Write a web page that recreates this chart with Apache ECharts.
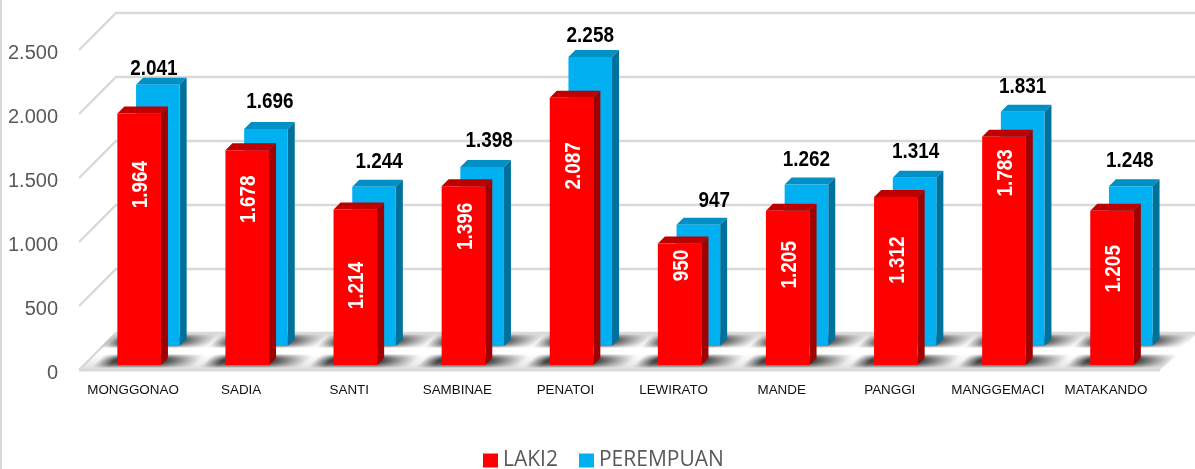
<!DOCTYPE html>
<html>
<head>
<meta charset="utf-8">
<style>html,body{margin:0;padding:0;background:#fff}#c{width:1195px;height:469px}</style>
<script src="https://cdn.jsdelivr.net/npm/echarts@6/dist/echarts.min.js"></script>
</head>
<body>
<div id="c"></div>
<script>
const categories = ['MONGGONAO','SADIA','SANTI','SAMBINAE','PENATOI','LEWIRATO','MANDE','PANGGI','MANGGEMACI','MATAKANDO'];
const laki2 = [1964,1678,1214,1396,2087,950,1205,1312,1783,1205];
const perempuan = [2041,1696,1244,1398,2258,947,1262,1314,1831,1248];
const yTicks = [0,500,1000,1500,2000,2500];
const yTickLabels = ['0','500','1.000','1.500','2.000','2.500'];

// layout only: hand placement of the value labels in the reference
const redLabelDrop = [71,49,76,40,68,22,54,63,36,58];
const blueLabelDx = [-4,4,5,7,0,16,0,1,0,-1];
const blueLabelRise = [9,20,18,19,14,17,18,19,18,18];

const fmt = v => { const s = String(v); return s.length > 3 ? s.slice(0,-3) + '.' + s.slice(-3) : s; };

const DEPTH = 37, BAR_W = 43.6, SIDE = 7;
const GRID_COLOR = '#d9d9d9';
const SANS = '"Liberation Sans", Arial, sans-serif';

function barShape(x, yBase, yTop, front, top, side) {
  return [
    {type:'polygon', shape:{points:[[x,yTop],[x+SIDE,yTop-SIDE],[x+BAR_W+SIDE,yTop-SIDE],[x+BAR_W,yTop]]}, style:{fill:top}},
    {type:'polygon', shape:{points:[[x+BAR_W,yTop],[x+BAR_W+SIDE,yTop-SIDE],[x+BAR_W+SIDE,yBase-SIDE],[x+BAR_W,yBase]]}, style:{fill:side}},
    {type:'rect', shape:{x:x,y:yTop,width:BAR_W,height:yBase-yTop}, style:{fill:front}}
  ];
}
function valueText(text, x, y, fill, rotation) {
  return {type:'text', x:x, y:y, rotation:rotation||0, scaleX:0.86, z2:10,
    style:{text:text, fill:fill, font:'bold 22px "Liberation Sans", Arial, sans-serif', align:'center', verticalAlign:'middle'}};
}
// soft floor shadow: stacked 1px rows, each a horizontal fade, darkest in the middle row
function softShadow(l, r, top, bottom, fadeIn, fadeOut) {
  const rows = [], h = bottom - top;
  for (let k = 0; k < h; k++) {
    const d = (k + 0.5 - h/2) / (h/2);
    const a = 0.96 * Math.pow(1 - d*d, 0.9);
    const sl = l + (bottom - (top + k)) - h/2;
    rows.push({type:'rect', shape:{x:sl, y:top+k, width:r-l, height:1}, style:{fill:{type:'linear',x:0,y:0,x2:1,y2:0,colorStops:[
      {offset:0,color:'rgba(60,60,60,0)'},
      {offset:fadeIn,color:'rgba(60,60,60,'+a+')'},
      {offset:fadeOut,color:'rgba(60,60,60,'+a+')'},
      {offset:1,color:'rgba(60,60,60,0)'}]}}});
  }
  return rows;
}

const option = {
  animation:false,
  backgroundColor:'#fff',
  grid:{left:79, width:1081, top:50, height:320, outerBoundsMode:'none'},
  xAxis:{type:'category', data:categories, axisLine:{show:false}, axisTick:{show:false}, splitLine:{show:false},
    axisLabel:{interval:0, margin:14, color:'#111', fontSize:13.4, fontFamily:SANS}},
  yAxis:{type:'value', min:0, max:2500, interval:500, axisLine:{show:false}, axisTick:{show:false}, splitLine:{show:false},
    axisLabel:{margin:21, color:'#595959', fontSize:20, fontFamily:SANS, verticalAlign:'top', lineHeight:6,
      formatter:v => yTickLabels[yTicks.indexOf(v)]}},
  legend:{left:483, top:450, padding:0, itemWidth:15, itemHeight:14, itemGap:21, icon:'rect', selectedMode:false,
    data:['LAKI2','PEREMPUAN'],
    textStyle:{color:'#595959', fontSize:21, fontFamily:'"Open Sans", sans-serif'}},
  graphic:[{type:'rect', shape:{x:0,y:0,width:2,height:469}, style:{fill:GRID_COLOR}, silent:true}],
  series:[
    {name:'walls', type:'custom', silent:true, z:1, coordinateSystem:'cartesian2d',
      data:yTicks.map(v=>[0,v]), encode:{x:0,y:1},
      renderItem:(params, api)=>{
        const cs = params.coordSys, v = api.value(1), y = api.coord([0,v])[1];
        const x0 = cs.x, x1 = cs.x+cs.width;
        const kids = [];
        if (v === 0) {
          kids.push({type:'polygon', shape:{points:[[x0,y],[x0+DEPTH,y-DEPTH],[x1+DEPTH,y-DEPTH],[x1,y]]},
            style:{fill:{type:'linear',x:0,y:0,x2:0,y2:1,colorStops:[{offset:0,color:'#dedede'},{offset:0.42,color:'#fff'},{offset:0.58,color:'#fff'},{offset:1,color:'#dedede'}]}}});
          kids.push({type:'line', shape:{x1:x0,y1:y,x2:x1,y2:y}, style:{stroke:GRID_COLOR,lineWidth:3}});
        }
        kids.push({type:'polyline', shape:{points:[[x0,y],[x0+DEPTH,y-DEPTH],[x1+DEPTH,y-DEPTH]]},
          style:{stroke:GRID_COLOR,lineWidth:2.4,fill:null}});
        return {type:'group', children:kids};
      }},
    {name:'floorShadows', type:'custom', silent:true, z:2, coordinateSystem:'cartesian2d',
      data:categories.map((c,i)=>[i,0]), encode:{x:0,y:1},
      renderItem:(params, api)=>{
        const p = api.coord([api.value(0),0]), c = p[0], y = p[1];
        return {type:'group', children:
          softShadow(c-36, c+66, y-16, y-2, 0.16, 0.66).concat(softShadow(c-28, c+80, y-36, y-22, 0.16, 0.68))};
      }},
    {name:'PEREMPUAN', type:'custom', silent:true, z:3, coordinateSystem:'cartesian2d',
      itemStyle:{color:'#00b0f0'},
      data:perempuan.map((v,i)=>[i,v]), encode:{x:0,y:1},
      renderItem:(params, api)=>{
        const i = api.value(0), v = api.value(1);
        const b = api.coord([i,0]), t = api.coord([i,v]);
        const x = b[0]+3, yB = b[1]-24, yT = t[1]-24;
        const kids = barShape(x,yB,yT,'#00b0f0','#0090c5','#00719b');
        kids.push(valueText(fmt(v), x+BAR_W/2+blueLabelDx[i], yT-SIDE-blueLabelRise[i], '#000'));
        return {type:'group', children:kids};
      }},
    {name:'LAKI2', type:'custom', silent:true, z:4, coordinateSystem:'cartesian2d',
      itemStyle:{color:'#ff0000'},
      data:laki2.map((v,i)=>[i,v]), encode:{x:0,y:1},
      renderItem:(params, api)=>{
        const i = api.value(0), v = api.value(1);
        const b = api.coord([i,0]), t = api.coord([i,v]);
        const x = b[0]-15.7, yB = b[1]-5, yT = t[1]-5;
        const kids = barShape(x,yB,yT,'#ff0000','#bf0000','#a00000');
        kids.push(valueText(fmt(v), x+BAR_W/2+2, yT+redLabelDrop[i], '#fff', Math.PI/2));
        return {type:'group', children:kids};
      }}
  ]
};
const chart = echarts.init(document.getElementById('c'), null, {renderer:'canvas'});
chart.setOption(option);
</script>
</body>
</html>
